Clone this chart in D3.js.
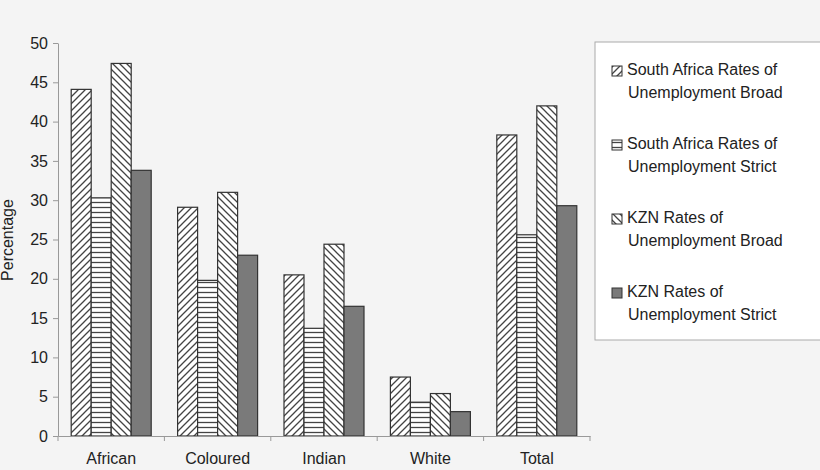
<!DOCTYPE html><html><head><script src="https://cdn.jsdelivr.net/npm/d3@7"></script>
<style>body{margin:0;background:#f4f4f4}svg{display:block}</style></head><body><script>
const categories=["African","Coloured","Indian","White","Total"];
const seriesNames=["South Africa Rates of|Unemployment Broad","South Africa Rates of|Unemployment Strict","KZN Rates of|Unemployment Broad","KZN Rates of|Unemployment Strict"];
const saBroad=[44.1,29.1,20.5,7.5,38.3];
const saStrict=[30.3,19.8,13.7,4.3,25.6];
const kznBroad=[47.4,31.0,24.4,5.4,42.0];
const kznStrict=[33.8,23.0,16.5,3.1,29.3];
const yTicks=[0,5,10,15,20,25,30,35,40,45,50];
const series=[saBroad,saStrict,kznBroad,kznStrict];
const fills=["url(#p0)","url(#p1)","url(#p2)","#7a7a7a"];
const svg=d3.select("body").append("svg").attr("width",820).attr("height",470);
svg.append("rect").attr("width",820).attr("height",470).attr("fill","#f4f4f4");
const defs=svg.append("defs");
function pat(id,path,size){const p=defs.append("pattern").attr("id",id).attr("patternUnits","userSpaceOnUse").attr("width",size).attr("height",size);
p.append("rect").attr("width",size).attr("height",size).attr("fill","#fff");
p.append("path").attr("d",path).attr("stroke","#444").attr("stroke-width",1.3).attr("fill","none");}
pat("p0","M0,7L7,0M-2,2L2,-2M5,9L9,5",7);
pat("p1","M0,2.5H5",5);
pat("p2","M0,0L7,7M-2,5L2,9M5,-2L9,2",7);
const x=d3.scaleBand().domain(categories).range([58,590]);
const y=d3.scaleLinear().domain([0,50]).range([436,43]);
const inner=d3.scaleBand().domain(d3.range(4)).range([0,80]);
const g=svg.append("g");
categories.forEach((c,i)=>{series.forEach((s,j)=>{
g.append("rect").attr("x",x(c)+(x.bandwidth()-80)/2+inner(j)).attr("y",y(s[i])).attr("width",inner.bandwidth()).attr("height",y(0)-y(s[i]))
.attr("fill",fills[j]).attr("stroke","#333").attr("stroke-width",1.2);});});
const ya=svg.append("g").attr("transform","translate(58,0)").call(d3.axisLeft(y).tickValues(yTicks).tickSize(5).tickSizeOuter(0));
const xa=svg.append("g").attr("transform","translate(0,436)").call(d3.axisBottom(x).tickSize(5).tickSizeOuter(0));
xa.selectAll(".tick line").remove();
xa.selectAll(".tick").each(function(d,i){});
xa.append("g").selectAll("line").data(d3.range(6)).join("line").attr("x1",i=>58+i*x.bandwidth()).attr("x2",i=>58+i*x.bandwidth()).attr("y1",0).attr("y2",5).attr("stroke","#999");
[ya,xa].forEach(a=>{a.selectAll("path,line").attr("stroke","#999");a.selectAll("text").attr("font-family","Liberation Sans, Arial").attr("font-size",16).attr("fill","#222");});
xa.selectAll(".tick text").attr("dy",0).attr("y",28);
ya.selectAll(".tick text").attr("x",-10);
svg.append("text").attr("transform","translate(13,240) rotate(-90)").attr("text-anchor","middle").attr("font-family","Liberation Sans, Arial").attr("font-size",16).attr("fill","#222").text("Percentage");
const lg=svg.append("g");
lg.append("rect").attr("x",595).attr("y",42).attr("width",230).attr("height",298).attr("fill","#fff").attr("stroke","#aaa");
seriesNames.forEach((n,j)=>{const ty=75+j*74;
lg.append("rect").attr("x",612).attr("y",ty-9).attr("width",10).attr("height",10).attr("fill",fills[j]).attr("stroke","#333");
const t=lg.append("text").attr("font-family","Liberation Sans, Arial").attr("font-size",16).attr("fill","#222");
n.split("|").forEach((l,k)=>t.append("tspan").attr("x",k?628:627).attr("y",ty+k*23).text(l));});
</script></body></html>
